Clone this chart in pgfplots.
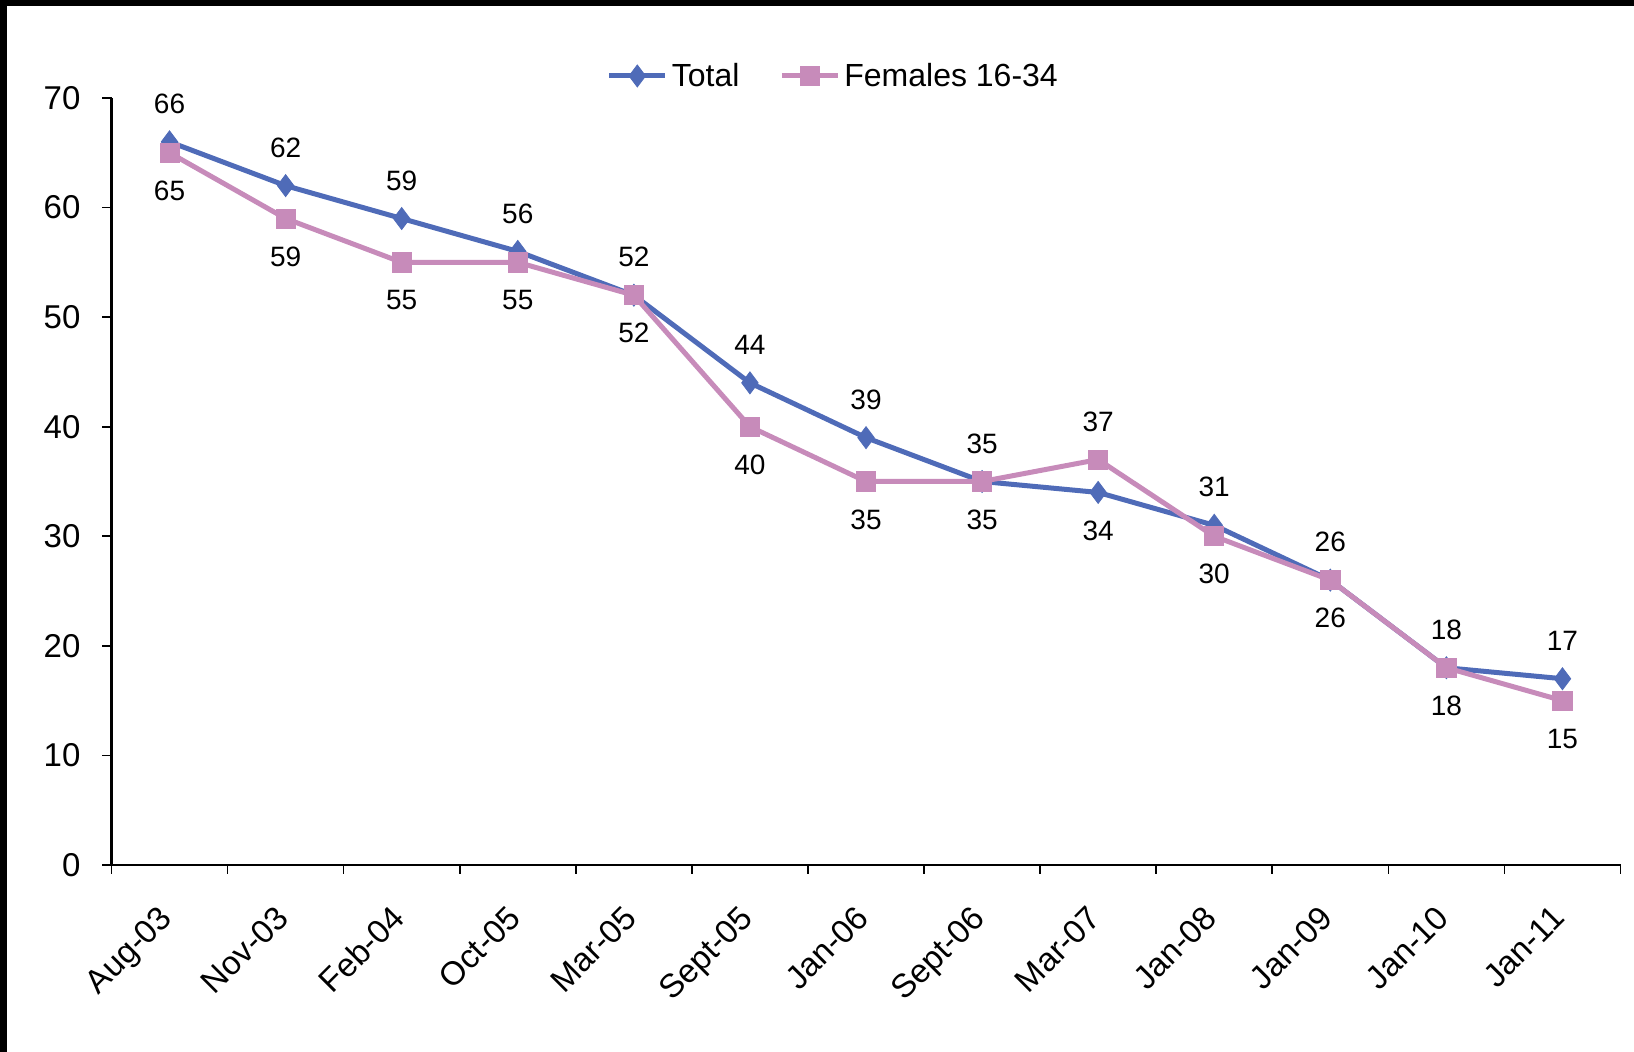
\documentclass[border=0pt]{standalone}
\usepackage{fontspec}
\setmainfont{Liberation Sans}
\usepackage{pgfplots}
\pgfplotsset{compat=1.18}
\definecolor{cTotal}{RGB}{79,107,184}
\definecolor{cFem}{RGB}{199,139,186}
\pgfplotstableread{
x y dy
0 66 19
1 62 19
2 59 19
3 56 19
4 52 19
5 44 19
6 39 19
7 35 19
8 34 -19
9 31 19
10 26 19
11 18 19
12 17 19
}\tabTotal
\pgfplotstableread{
x y dy
0 65 -19
1 59 -19
2 55 -19
3 55 -19
4 52 -19
5 40 -19
6 35 -19
7 35 -19
8 37 19
9 30 -19
10 26 -19
11 18 -19
12 15 -19
}\tabFem
\begin{document}
\begin{tikzpicture}[x=1pt,y=1pt]
\path[use as bounding box] (0,0) rectangle (817,526);
\fill[black] (0,523) rectangle (817,526);
\fill[black] (0,0) rectangle (3.5,526);
\begin{axis}[
  at={(55.75pt,93.5pt)}, anchor=south west,
  scale only axis, width=754.5pt, height=383.5pt,
  xmin=-0.5, xmax=12.5, ymin=0, ymax=70,
  axis lines*=left,
  axis line style={line width=1.1pt, black},
  /pgf/number format/assume math mode=true,
  ytick={0,10,...,70},
  xtick={-0.5,0.5,...,12.5},
  xticklabels={},
  extra x ticks={0,1,...,12},
  extra x tick labels={Aug-03,Nov-03,Feb-04,Oct-05,Mar-05,Sept-05,Jan-06,Sept-06,Mar-07,Jan-08,Jan-09,Jan-10,Jan-11},
  extra x tick style={major tick length=0pt},
  tick align=outside, major tick length=4.5pt,
  tick style={line width=0.8pt, black},
  ticklabel style={font=\fontsize{16.5}{19}\selectfont},
  yticklabel style={xshift=-7.5pt},
  xticklabel style={rotate=45, anchor=north east, yshift=-6pt, xshift=-14.4pt},
  legend style={draw=none, fill=none, at={(0.479,1.0287)}, anchor=center,
    legend columns=2, font=\fontsize{16}{19}\selectfont,
    /tikz/every even column/.append style={column sep=18pt}},
  legend image code/.code={\draw[mark repeat=2,mark phase=2,#1] plot coordinates {(0pt,0pt) (14pt,0pt) (28pt,0pt)};},
  nodes near coords,
  point meta=y,
  nodes near coords style={anchor=center, yshift=\dy pt, text=black, font=\fontsize{14}{17}\selectfont},
  visualization depends on={\thisrow{dy}\as\dy},
]
\addplot[cTotal, line width=2.5pt, mark=diamond*, mark size=5.5pt,
  mark options={solid, fill=cTotal, draw=cTotal, line width=0.4pt}] table[x=x,y=y]{\tabTotal};
\addlegendentry{Total}
\addplot[cFem, line width=2.5pt, mark=square*, mark size=4.8pt,
  mark options={solid, fill=cFem, draw=cFem, line width=0.4pt}] table[x=x,y=y]{\tabFem};
\addlegendentry{Females 16-34}
\end{axis}
\end{tikzpicture}
\end{document}
